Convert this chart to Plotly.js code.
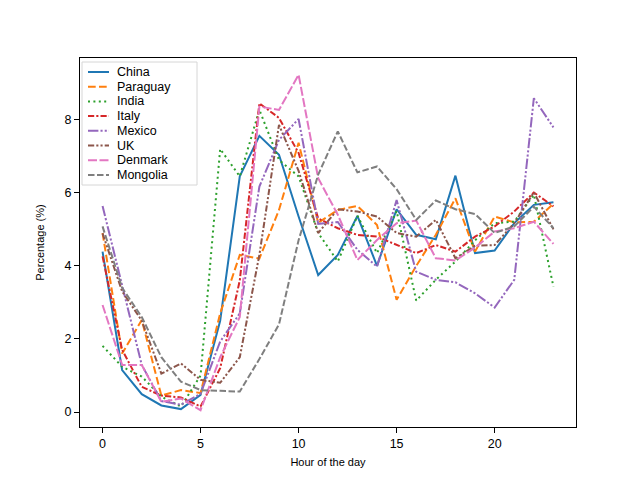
<!DOCTYPE html>
<html>
<head>
<meta charset="utf-8">
<script src="https://cdn.plot.ly/plotly-3.0.1.min.js"></script>
<style>
  body { margin: 0; background: #fff; }
  #grafico { width: 640px; height: 480px; }
</style>
</head>
<body>
<div id="grafico"></div>
<script>
// Dados (percentual por hora do dia)
const hours = [0, 1, 2, 3, 4, 5, 6, 7, 8, 9, 10, 11, 12, 13, 14, 15, 16, 17, 18, 19, 20, 21, 22, 23];
const countries = ['China', 'Paraguay', 'India', 'Italy', 'Mexico', 'UK', 'Denmark', 'Mongolia'];

const china    = [4.39, 1.15, 0.49, 0.18, 0.08, 0.47, 2.5, 6.45, 7.56, 7.04, 5.35, 3.75, 4.30, 5.37, 4.0, 5.55, 4.85, 4.73, 6.47, 4.35, 4.42, 5.17, 5.67, 5.74];
const paraguay = [4.9, 1.6, 2.52, 0.45, 0.6, 0.52, 2.7, 4.3, 4.2, 5.53, 7.37, 5.18, 5.53, 5.64, 5.12, 3.07, 4.0, 4.85, 5.85, 4.39, 5.35, 5.19, 5.21, 5.7];
const india    = [1.81, 1.24, 0.97, 0.42, 0.15, 1.0, 7.2, 6.45, 8.27, 6.9, 6.45, 4.9, 4.12, 5.37, 4.35, 5.5, 3.05, 3.62, 4.12, 4.7, 5.17, 5.21, 5.95, 3.43];
const italy    = [4.26, 1.7, 0.69, 0.45, 0.4, 0.15, 1.2, 3.6, 8.45, 8.05, 7.09, 5.3, 5.03, 4.85, 4.8, 4.57, 4.35, 4.57, 4.39, 4.8, 5.08, 5.49, 6.01, 5.63];
const mexico   = [5.64, 3.43, 1.29, 0.3, 0.2, 0.5, 1.93, 2.7, 6.17, 7.45, 8.02, 5.15, 5.2, 4.44, 3.98, 5.8, 3.84, 3.62, 3.55, 3.25, 2.86, 3.62, 8.59, 7.79];
const uk       = [4.89, 3.3, 2.5, 1.05, 1.33, 0.88, 0.8, 1.5, 4.3, 7.86, 6.6, 4.9, 5.55, 5.49, 5.35, 4.9, 4.8, 5.26, 4.21, 4.55, 4.57, 5.17, 6.01, 5.0];
const denmark  = [2.93, 1.29, 1.29, 0.28, 0.37, 0.05, 1.5, 2.6, 8.36, 8.27, 9.23, 6.4, 5.4, 4.16, 4.71, 5.17, 5.24, 4.21, 4.15, 4.5, 4.94, 5.03, 5.21, 4.6];
const mongolia = [5.08, 3.4, 2.6, 1.5, 0.83, 0.6, 0.58, 0.56, 1.45, 2.4, 4.7, 6.5, 7.68, 6.56, 6.72, 6.1, 5.26, 5.79, 5.55, 5.42, 4.9, 5.08, 5.62, 5.03];

const series = [china, paraguay, india, italy, mexico, uk, denmark, mongolia];

// Estilos (cores tab10 e tracejados do matplotlib)
const cores = ['#1f77b4', '#ff7f0e', '#2ca02c', '#d62728', '#9467bd', '#8c564b', '#e377c2', '#7f7f7f'];
const tracos = [
    'solid',
    '7.7px,3.3px',
    '2px,3.4px',
    '6.2px,2.1px,2.1px,2.1px',
    '10.4px,2.1px,2.1px,2.1px,2.1px,2.1px',
    '6.2px,2.1px,2.1px,2.1px,2.1px,2.1px',
    '9px,2.5px',
    '6.5px,2.5px'
];

const fonte = 'Liberation Sans, Arial, sans-serif';

var data = series.map((ys, i) => ({
    x: hours,
    y: ys,
    mode: 'lines',
    type: 'scatter',
    name: countries[i],
    line: { color: cores[i], width: 2, dash: tracos[i] },
    showlegend: false
}));

//// Legenda feita a mao (mais compacta que a do plotly)
const area = { l: 80, r: 576, t: 58, b: 427 };
const px2x = px => (px - area.l) / (area.r - area.l);
const px2y = py => (area.b - py) / (area.b - area.t);

var shapes = [{
    type: 'rect', xref: 'paper', yref: 'paper',
    x0: px2x(82), x1: px2x(197), y0: px2y(185), y1: px2y(62),
    line: { color: '#d6d6d6', width: 1 },
    fillcolor: 'rgba(255,255,255,0.85)',
    layer: 'above'
}];
var annotations = [];

countries.forEach((nome, i) => {
    const yy = 72 + i * 14.7;
    shapes.push({
        type: 'line', xref: 'paper', yref: 'paper',
        x0: px2x(88), x1: px2x(109), y0: px2y(yy), y1: px2y(yy),
        line: { color: cores[i], width: 2, dash: tracos[i] },
        layer: 'above'
    });
    annotations.push({
        xref: 'paper', yref: 'paper',
        x: px2x(115), y: px2y(yy),
        xanchor: 'left', yanchor: 'middle',
        text: nome, showarrow: false,
        font: { family: fonte, size: 12.5, color: '#000' }
    });
});

var layout = {
    width: 640,
    height: 480,
    paper_bgcolor: '#fff',
    plot_bgcolor: '#fff',
    margin: { l: 80, r: 64, t: 58, b: 53 },
    font: { family: fonte, size: 12, color: '#000' },
    xaxis: {
        range: [-1.15, 24.15],
        tickvals: [0, 5, 10, 15, 20],
        ticks: 'outside', ticklen: 5, tickwidth: 1, tickcolor: '#000',
        showline: true, linecolor: '#000', linewidth: 1, mirror: true,
        showgrid: false, zeroline: false,
        tickfont: { size: 12.5 },
        title: { text: 'Hour of the day', font: { size: 11 }, standoff: 8 }
    },
    yaxis: {
        range: [-0.41, 9.69],
        tickvals: [0, 2, 4, 6, 8],
        ticks: 'outside', ticklen: 5, tickwidth: 1, tickcolor: '#000',
        showline: true, linecolor: '#000', linewidth: 1, mirror: true,
        showgrid: false, zeroline: false,
        tickfont: { size: 12.5 },
        title: { text: 'Percentage (%)', font: { size: 11 }, standoff: 17 }
    },
    shapes: shapes,
    annotations: annotations
};

Plotly.newPlot('grafico', data, layout, { displayModeBar: false, staticPlot: true });
</script>
</body>
</html>
